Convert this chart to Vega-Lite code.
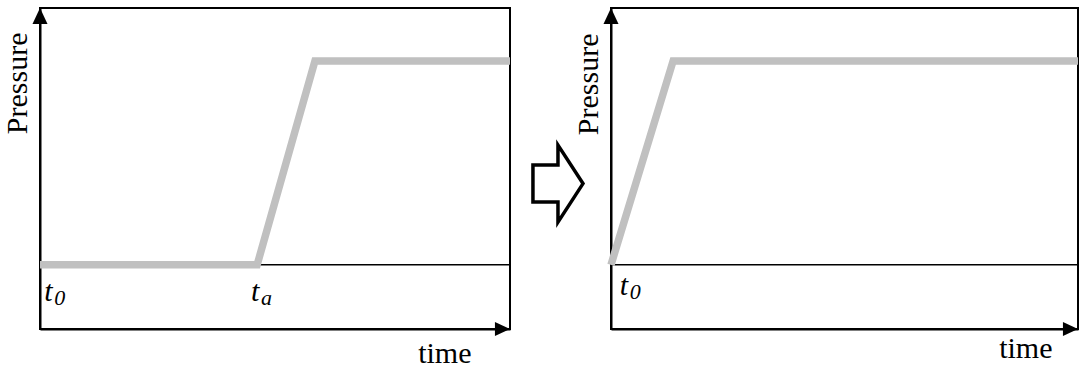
{
  "$schema": "https://vega.github.io/schema/vega-lite/v6.json",
  "padding": {"left": 0, "top": 7, "right": 0, "bottom": 0},
  "background": "white",
  "spacing": 0,
  "bounds": "flush",
  "config": {
    "view": {"stroke": "black", "strokeWidth": 2},
    "font": "Liberation Serif",
    "axis": {"domainColor": "black", "domainWidth": 2, "ticks": false, "labels": false, "grid": false, "titleFont": "Liberation Serif", "titleFontSize": 30, "titleFontWeight": "normal", "titleColor": "black", "zindex": 1}
  },
  "datasets": {
    "before": [{"time": 0, "pressure": 20}, {"time": 46.2, "pressure": 20}, {"time": 58.5, "pressure": 83.5}, {"time": 100, "pressure": 83.5}],
    "after": [{"time": 0, "pressure": 20}, {"time": 13.3, "pressure": 83.5}, {"time": 100, "pressure": 83.5}],
    "level": [{"time": 0, "time2": 100, "pressure": 20}],
    "arrowheads": [{"time": 0, "pressure": 100, "dir": "up"}, {"time": 100, "pressure": 0, "dir": "right"}],
    "labelsBefore": [{"time": 0.9, "pressure": 8.7, "main": "t", "sub": "0"}, {"time": 44.9, "pressure": 8.7, "main": "t", "sub": "a"}],
    "labelsAfter": [{"time": 1.9, "pressure": 10.6, "main": "t", "sub": "0"}],
    "transition": [{"x": 0.475, "y": 0.453}]
  },
  "hconcat": [
    {
      "width": 470,
      "height": 321,
      "encoding": {
        "x": {"field": "time", "type": "quantitative", "scale": {"domain": [0, 100], "nice": false, "zero": false}, "axis": {"title": "time", "titleX": 431, "titleY": 33, "titleAlign": "right", "titleBaseline": "alphabetic", "titleAngle": 0}},
        "y": {"field": "pressure", "type": "quantitative", "scale": {"domain": [0, 100], "nice": false}, "axis": {"title": "Pressure", "titleX": -14, "titleY": 24, "titleAlign": "right", "titleBaseline": "alphabetic", "titleAngle": -90}}
      },
      "layer": [
        {"data": {"name": "level"}, "mark": {"type": "rule", "color": "black", "strokeWidth": 1.5}, "encoding": {"x2": {"field": "time2"}}},
        {"data": {"name": "before"}, "mark": {"type": "line", "color": "#c0c0c0", "strokeWidth": 7.5, "strokeCap": "butt", "strokeJoin": "miter"}},
        {"data": {"name": "arrowheads"}, "mark": {"type": "point", "filled": true, "color": "black", "opacity": 1, "size": 1024, "strokeWidth": 0}, "encoding": {"shape": {"field": "dir", "type": "nominal", "scale": {"domain": ["up", "right"], "range": ["M0,0L-0.47,1L0.47,1Z", "M0,0L-0.94,-0.44L-0.94,0.44Z"]}, "legend": null}}},
        {"data": {"name": "labelsBefore"}, "mark": {"type": "text", "font": "Liberation Serif", "fontStyle": "italic", "fontSize": 30, "align": "left", "baseline": "alphabetic", "color": "black"}, "encoding": {"text": {"field": "main"}}},
        {"data": {"name": "labelsBefore"}, "mark": {"type": "text", "font": "Liberation Serif", "fontStyle": "italic", "fontSize": 22, "align": "left", "baseline": "alphabetic", "color": "black", "dx": 10, "dy": 4}, "encoding": {"text": {"field": "sub"}}}
      ]
    },
    {
      "width": 101,
      "height": 321,
      "view": {"stroke": null},
      "data": {"name": "transition"},
      "mark": {"type": "point", "shape": "M-0.65,-0.48L0,-0.48L0,-1L0.65,0L0,1L0,0.48L-0.65,0.48Z", "size": 5929, "filled": true, "fill": "white", "stroke": "black", "strokeWidth": 3.5, "opacity": 1, "strokeJoin": "miter"},
      "encoding": {
        "x": {"field": "x", "type": "quantitative", "scale": {"domain": [0, 1]}, "axis": null},
        "y": {"field": "y", "type": "quantitative", "scale": {"domain": [0, 1]}, "axis": null}
      }
    },
    {
      "width": 467,
      "height": 321,
      "encoding": {
        "x": {"field": "time", "type": "quantitative", "scale": {"domain": [0, 100], "nice": false, "zero": false}, "axis": {"title": "time", "titleX": 441, "titleY": 28, "titleAlign": "right", "titleBaseline": "alphabetic", "titleAngle": 0}},
        "y": {"field": "pressure", "type": "quantitative", "scale": {"domain": [0, 100], "nice": false}, "axis": {"title": "Pressure", "titleX": -14, "titleY": 25, "titleAlign": "right", "titleBaseline": "alphabetic", "titleAngle": -90}}
      },
      "layer": [
        {"data": {"name": "level"}, "mark": {"type": "rule", "color": "black", "strokeWidth": 1.5}, "encoding": {"x2": {"field": "time2"}}},
        {"data": {"name": "after"}, "mark": {"type": "line", "color": "#c0c0c0", "strokeWidth": 7.5, "strokeCap": "butt", "strokeJoin": "miter"}},
        {"data": {"name": "arrowheads"}, "mark": {"type": "point", "filled": true, "color": "black", "opacity": 1, "size": 1024, "strokeWidth": 0}, "encoding": {"shape": {"field": "dir", "type": "nominal", "scale": {"domain": ["up", "right"], "range": ["M0,0L-0.47,1L0.47,1Z", "M0,0L-0.94,-0.44L-0.94,0.44Z"]}, "legend": null}}},
        {"data": {"name": "labelsAfter"}, "mark": {"type": "text", "font": "Liberation Serif", "fontStyle": "italic", "fontSize": 30, "align": "left", "baseline": "alphabetic", "color": "black"}, "encoding": {"text": {"field": "main"}}},
        {"data": {"name": "labelsAfter"}, "mark": {"type": "text", "font": "Liberation Serif", "fontStyle": "italic", "fontSize": 22, "align": "left", "baseline": "alphabetic", "color": "black", "dx": 10, "dy": 4}, "encoding": {"text": {"field": "sub"}}}
      ]
    }
  ]
}
